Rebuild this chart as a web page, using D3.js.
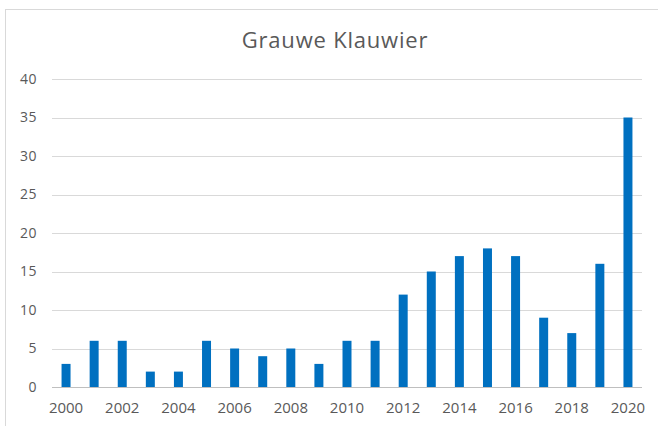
<!DOCTYPE html>
<meta charset="utf-8">
<style>
body { margin: 0; background: #fff; }
svg { display: block; }
.axis text { font-family: "Open Sans", sans-serif; fill: #595959; }
.axis--y text { font-size: 14px; letter-spacing: 0.5px; }
.axis--x text { font-size: 15px; }
.title { font: 22px "Open Sans", sans-serif; fill: #595959; letter-spacing: 0.8px; }
</style>
<svg width="658" height="426"></svg>
<script src="https://d3js.org/d3.v7.min.js"></script>
<script>
var years = d3.range(2000, 2021).map(String);
var counts = [3, 6, 6, 2, 2, 6, 5, 4, 5, 3, 6, 6, 12, 15, 17, 18, 17, 9, 7, 16, 35];
var yTicks = [0, 5, 10, 15, 20, 25, 30, 35, 40];
var xTickLabels = years.filter(function(d, i) { return i % 2 == 0; });

var svg = d3.select("svg");

// chart area border (runs off the right and bottom edge)
svg.append("rect")
  .attr("x", 5.5).attr("y", 9.5)
  .attr("width", 700).attr("height", 500)
  .attr("fill", "none")
  .attr("stroke", "#d9d9d9");

var x = d3.scaleBand()
  .domain(years)
  .range([52, 642])
  .paddingInner(0.68)
  .paddingOuter(0.34);

var y = d3.scaleLinear()
  .domain([0, 40])
  .range([387, 79]);

svg.append("text")
  .attr("class", "title")
  .attr("x", 335).attr("y", 48)
  .attr("text-anchor", "middle")
  .text("Grauwe Klauwier");

// gridlines
svg.append("g")
  .selectAll("line").data(yTicks.slice(1)).enter().append("line")
  .attr("x1", 52).attr("x2", 642)
  .attr("y1", function(d) { return Math.round(y(d)) + 0.5; })
  .attr("y2", function(d) { return Math.round(y(d)) + 0.5; })
  .attr("stroke", "#d9d9d9");

var yAxis = svg.append("g")
  .attr("class", "axis axis--y")
  .attr("transform", "translate(52,0)")
  .call(d3.axisLeft(y).tickValues(yTicks).tickSize(0).tickPadding(15));
yAxis.select(".domain").remove();

svg.append("g")
  .selectAll("rect").data(counts).enter().append("rect")
  .attr("x", function(d, i) { return x(years[i]); })
  .attr("width", x.bandwidth())
  .attr("y", function(d) { return y(d); })
  .attr("height", function(d) { return y(0) - y(d); })
  .attr("fill", "#0070c0");

var xAxis = svg.append("g")
  .attr("class", "axis axis--x")
  .attr("transform", "translate(0," + (Math.round(y(0)) + 0.5) + ")")
  .call(d3.axisBottom(x).tickValues(xTickLabels).tickSize(0).tickPadding(15));
xAxis.select(".domain")
  .attr("stroke", "#bfbfbf")
  .attr("d", "M52,0H642");
</script>
